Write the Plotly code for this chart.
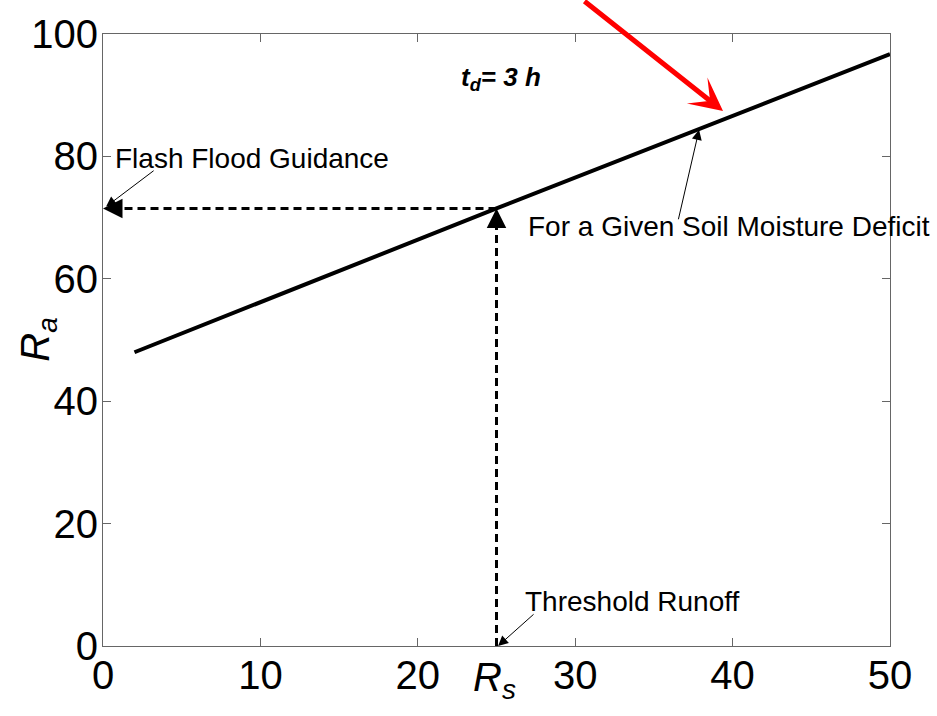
import plotly.graph_objects as go

# Rainfall (Ra) needed for a given surface runoff (Rs), duration t_d = 3 h
rs_curve = [2, 25, 50]
ra_curve = [48.0, 71.5, 96.7]

# Threshold runoff and the resulting flash flood guidance
threshold_rs = 25
guidance_ra = 71.5

x_ticks = [0, 10, 20, 30, 40, 50]
y_ticks = [0, 20, 40, 60, 80, 100]

FONT = "Liberation Sans, Arial, sans-serif"

fig = go.Figure()

# Rainfall-runoff curve
fig.add_trace(go.Scatter(x=rs_curve, y=ra_curve, mode="lines",
                         line=dict(color="black", width=4), showlegend=False,
                         hoverinfo="skip"))

# Dashed construction lines: threshold runoff up to the curve, then across to Ra
fig.add_trace(go.Scatter(x=[threshold_rs, threshold_rs], y=[0, guidance_ra - 2.5],
                         mode="lines", line=dict(color="black", width=3, dash="8px,5px"),
                         showlegend=False, hoverinfo="skip"))
fig.add_trace(go.Scatter(x=[threshold_rs, 1.0], y=[guidance_ra, guidance_ra],
                         mode="lines", line=dict(color="black", width=3, dash="8px,5px"),
                         showlegend=False, hoverinfo="skip"))

ann = []
# Heads of the dashed arrows
ann.append(dict(x=threshold_rs, y=guidance_ra, ax=threshold_rs, ay=guidance_ra - 3,
                xref="x", yref="y", axref="x", ayref="y", text="", showarrow=True,
                arrowhead=2, arrowwidth=3, arrowsize=1.3, arrowcolor="black"))
ann.append(dict(x=0, y=guidance_ra, ax=1.2, ay=guidance_ra,
                xref="x", yref="y", axref="x", ayref="y", text="", showarrow=True,
                arrowhead=2, arrowwidth=3, arrowsize=1.3, arrowcolor="black"))

# Thin pointer arrows
ann.append(dict(x=0.2, y=guidance_ra + 0.3, ax=49, ay=-37, xref="x", yref="y",
                text="", showarrow=True, arrowhead=2, arrowwidth=1, arrowsize=2,
                arrowcolor="black"))
ann.append(dict(x=threshold_rs + 0.1, y=0, ax=37, ay=-33, xref="x", yref="y",
                text="", showarrow=True, arrowhead=2, arrowwidth=1, arrowsize=2,
                arrowcolor="black"))
ann.append(dict(x=37.87, y=84.35, ax=-21, ay=91, xref="x", yref="y",
                text="", showarrow=True, arrowhead=2, arrowwidth=1, arrowsize=2,
                arrowcolor="black"))

# Red highlight arrow pointing at the curve
ann.append(dict(x=39.39, y=87.42, ax=-140, ay=-113, xref="x", yref="y",
                text="", showarrow=True, arrowhead=3, arrowwidth=5, arrowsize=1.1,
                arrowcolor="#ff0000"))

# Labels
lab = dict(family=FONT, size=28, color="black")
ann.append(dict(x=0.64, y=79.7, xref="x", yref="y", text="Flash Flood Guidance",
                showarrow=False, xanchor="left", yanchor="middle", font=lab))
ann.append(dict(x=26.87, y=68.5, xref="x", yref="y",
                text="For a Given Soil Moisture Deficit",
                showarrow=False, xanchor="left", yanchor="middle", font=lab))
ann.append(dict(x=26.7, y=7.3, xref="x", yref="y", text="Threshold Runoff",
                showarrow=False, xanchor="left", yanchor="middle", font=lab))
ann.append(dict(x=25.3, y=92.8, xref="x", yref="y",
                text="<b><i>t<sub>d</sub>= 3 h</i></b>",
                showarrow=False, xanchor="center", yanchor="middle",
                font=dict(family=FONT, size=26, color="black")))

# Axis titles
ttl = dict(family=FONT, size=40, color="black")
ann.append(dict(x=0.497, y=-0.055, xref="paper", yref="paper",
                text="<i>R</i><sub><i>s</i></sub>", showarrow=False,
                xanchor="center", yanchor="middle", font=ttl))
ann.append(dict(x=-0.083, y=0.5, xref="paper", yref="paper",
                text="<i>R</i><sub><i>a</i></sub>", showarrow=False, textangle=-90,
                xanchor="center", yanchor="middle", font=ttl))

axis_common = dict(showline=True, linecolor="#666666", linewidth=1, mirror="ticks",
                   ticks="inside", ticklen=8, tickcolor="#666666", tickwidth=1,
                   showgrid=False, zeroline=False,
                   tickfont=dict(family=FONT, size=40, color="black"))

fig.update_layout(
    width=937, height=716,
    margin=dict(l=103, r=47, t=26, b=70, pad=0),
    paper_bgcolor="white", plot_bgcolor="white",
    xaxis=dict(range=[0, 50], tickvals=x_ticks, ticktext=[str(v) for v in x_ticks],
               ticklabelstandoff=-6, **axis_common),
    yaxis=dict(range=[0, 100], tickvals=y_ticks, ticktext=[str(v) for v in y_ticks],
               ticklabelstandoff=-4, **axis_common),
    annotations=ann,
    showlegend=False,
)

fig.write_html("out.html")
